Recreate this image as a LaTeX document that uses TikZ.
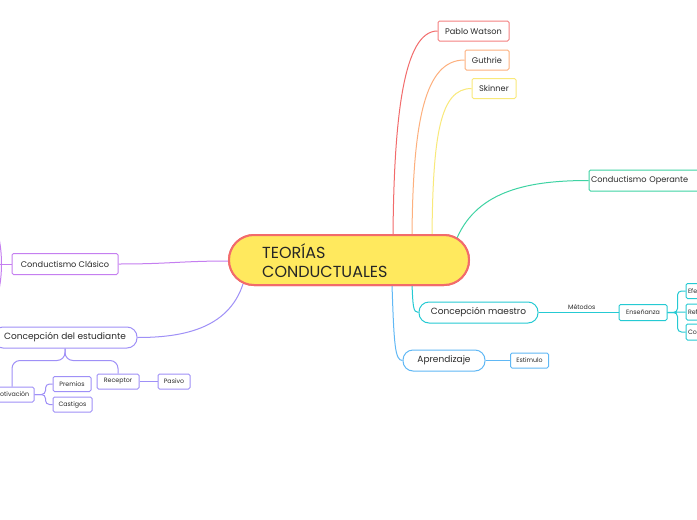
\documentclass[tikz,border=0pt]{standalone}
\usepackage{fontspec}
\setmainfont{Poppins}
\definecolor{cred}{HTML}{F26B6B}
\definecolor{corange}{HTML}{FDB07E}
\definecolor{cyellow}{HTML}{F9E97A}
\definecolor{cgreen}{HTML}{3ED3A3}
\definecolor{cpurple}{HTML}{C57FF0}
\definecolor{cindigo}{HTML}{9F90F7}
\definecolor{cteal}{HTML}{25CAD3}
\definecolor{cblue}{HTML}{60B8F5}
\definecolor{cfill}{HTML}{FFE95E}
\definecolor{ctext}{HTML}{2A2A2A}
\tikzset{
  boxnode/.style={draw, rounded corners=1.5pt, line width=1pt, fill=white, inner sep=0pt, text=ctext, align=center},
  roundnode/.style={boxnode, rounded corners=10pt},
  fsmall/.style={font=\fontsize{6.3}{7}\selectfont},
  fmid/.style={font=\fontsize{8.2}{9}\selectfont},
  fbig/.style={font=\fontsize{9}{10}\selectfont},
  conn/.style={line width=1pt},
  centerbox/.style={draw=cred, fill=cfill, line width=2pt, rounded corners=25pt, minimum width=240pt, minimum height=50pt, inner sep=0pt},
  centertext/.style={anchor=west, align=left, text=black!85, font=\fontsize{16}{18.5}\selectfont, inner sep=0pt},
}
\begin{document}
\begin{tikzpicture}[x=1pt,y=-1pt]
\useasboundingbox[fill=white] (0,0) rectangle (697,520);
% central
\node[centerbox] (c) at (349,260) {};
% top branches
\node[boxnode, draw=cred!85, fmid, minimum width=71pt, minimum height=20pt] (pw) at (473.5,31) {Pablo Watson};
\node[boxnode, draw=corange, fmid, minimum width=44pt, minimum height=20pt] (gu) at (487,60) {Guthrie};
\node[boxnode, draw=cyellow, fmid, minimum width=44pt, minimum height=20pt] (sk) at (494,88.5) {Skinner};
\node[boxnode, draw=cgreen, fmid, minimum width=116pt, minimum height=21pt, text width=112pt, align=left] (op) at (647,180.5) {Conductismo Operante};
\coordinate (c1) at (393,235.5);
\coordinate (c2) at (412,235.5);
\coordinate (c3) at (432,235.5);
\coordinate (c4) at (457,238);
\draw[conn, cred] (c1) .. controls (394,115) and (404,31) .. (pw.west);
\draw[conn, corange] (c2) .. controls (413,120) and (425,60) .. (gu.west);
\draw[conn, cyellow] (c3) .. controls (433,135) and (440,88.5) .. (sk.west);
\draw[conn, cgreen] (c4) .. controls (478,190) and (530,180.5) .. (op.west);
% left: Clasico
\node[boxnode, draw=cpurple, fmid, minimum width=106pt, minimum height=21pt] (cl) at (65,264) {Conductismo Clásico};
\coordinate (c5) at (229.5,261);
\coordinate (clb) at (0,264);
\draw[conn, cpurple] (cl.east) .. controls (170,264) and (180,261) .. (c5);
\draw[conn, cpurple] (cl.west) -- (clb);
\draw[conn, cpurple] (-6,222) .. controls (4,245) and (4,283) .. (-6,306);
% left: estudiante
\node[roundnode, draw=cindigo, fbig, minimum width=144pt, minimum height=21pt] (es) at (65,337.5) {Concepción del estudiante};
\coordinate (c6) at (243,284);
\draw[conn, cindigo] (c6) .. controls (228,330) and (180,337.5) .. (es.east);
\node[boxnode, draw=cindigo, fsmall, minimum width=44pt, minimum height=15pt] (mo) at (12,394.5) {Motivación};
\node[boxnode, draw=cindigo, fsmall, minimum width=38pt, minimum height=15pt] (pr) at (72,384) {Premios};
\node[boxnode, draw=cindigo, fsmall, minimum width=39pt, minimum height=15pt] (ca) at (72.5,404.5) {Castigos};
\node[boxnode, draw=cindigo, fsmall, minimum width=42pt, minimum height=15pt] (re) at (118,381.5) {Receptor};
\node[boxnode, draw=cindigo, fsmall, minimum width=32pt, minimum height=15pt] (pa) at (174,381.5) {Pasivo};
\draw[conn, cindigo, rounded corners=8pt] (es.south) -- ++(0,12) -| (mo.north);
\draw[conn, cindigo, rounded corners=8pt] (es.south) -- ++(0,12) -| (re.north);
\draw[conn, cindigo, rounded corners=4pt] (mo.east) -- ++(11,0) |- (pr.west);
\draw[conn, cindigo, rounded corners=4pt] (mo.east) -- ++(11,0) |- (ca.west);
\draw[conn, cindigo] (re.east) -- (pa.west);
% right bottom: maestro
\node[roundnode, draw=cteal, fbig, minimum width=119pt, minimum height=21pt] (ma) at (478.5,312.5) {Concepción maestro};
\coordinate (c7) at (412,284.5);
\draw[conn, cteal] (c7) .. controls (413,306) and (413,312.5) .. (ma.west);
\node[boxnode, draw=cteal, fsmall, minimum width=48pt, minimum height=16pt] (en) at (643,312.5) {Enseñanza};
\draw[conn, cteal] (ma.east) -- node[above, pos=0.54, fsmall, text=ctext, inner sep=2.5pt] {Métodos} (en.west);
\node[boxnode, draw=cteal, fsmall, minimum width=40pt, minimum height=15pt, text width=36pt, align=left] (e1) at (706,291) {Efectos};
\node[boxnode, draw=cteal, fsmall, minimum width=40pt, minimum height=16pt, text width=36pt, align=left] (e2) at (706,312) {Refuerzo};
\node[boxnode, draw=cteal, fsmall, minimum width=40pt, minimum height=16pt, text width=36pt, align=left] (e3) at (706,332) {Conducta};
\draw[conn, cteal] (en.east) -- (e2.west);
\draw[conn, cteal, rounded corners=4pt] (en.east) -- ++(10,0) |- (e1.west);
\draw[conn, cteal, rounded corners=4pt] (en.east) -- ++(10,0) |- (e3.west);
% aprendizaje
\node[roundnode, draw=cblue, fbig, minimum width=82pt, minimum height=21pt] (ap) at (444,360.5) {Aprendizaje};
\coordinate (c8) at (392,284.5);
\draw[conn, cblue] (c8) .. controls (394,345) and (395,360.5) .. (ap.west);
\node[boxnode, draw=cblue, fsmall, minimum width=38pt, minimum height=15pt] (et) at (529.5,360.5) {Estimulo};
\draw[conn, cblue, line width=1.5pt] (ap.east) -- (et.west);
% central drawn on top of connector ends
\node[centerbox] (cc) at (c) {};
\node[centertext] (ct) at (262,260.5) {TEORÍAS\\CONDUCTUALES};
\end{tikzpicture}
\end{document}
